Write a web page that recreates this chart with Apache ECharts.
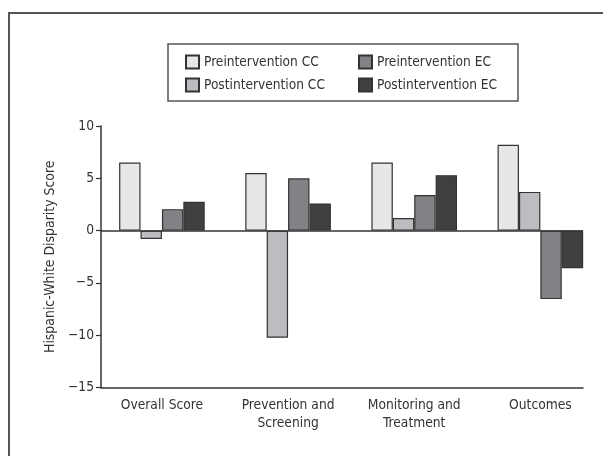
<!DOCTYPE html>
<html>
<head>
<meta charset="utf-8">
<script src="https://cdn.jsdelivr.net/npm/echarts@6/dist/echarts.min.js"></script>
<style>
html,body{margin:0;padding:0;background:#fff;}
#c{width:603px;height:456px;}
</style>
</head>
<body>
<div id="c"></div>
<script>
const categories = ['Overall Score', 'Prevention and\nScreening', 'Monitoring and\nTreatment', 'Outcomes'];
const seriesNames = ['Preintervention CC', 'Postintervention CC', 'Preintervention EC', 'Postintervention EC'];
const preCC  = [6.5, 5.5, 6.5, 8.2];
const postCC = [-0.8, -10.25, 1.2, 3.7];
const preEC  = [2.05, 5.0, 3.4, -6.55];
const postEC = [2.75, 2.6, 5.3, -3.6];

const colors = ['#e6e7e9', '#bcbdc0', '#808285', '#404041'];
const values = [preCC, postCC, preEC, postEC];
const catPos = categories.map((c, i) => i + 1);

// pick a condensed font if one is installed, else fall back and size to match text widths
const ctx = document.createElement('canvas').getContext('2d');
function w(font, txt) { ctx.font = font; return ctx.measureText(txt).width; }
const probe = 'Hispanic-White Disparity Score 0123456789';
const candidates = ['Liberation Sans Narrow', 'Arial Narrow', 'DejaVu Sans Condensed', 'Roboto Condensed', 'Noto Sans Condensed'];
let FAM = 'Liberation Sans';
for (const c of candidates) {
  if (w('100px "' + c + '", monospace', probe) !== w('100px monospace', probe) &&
      w('100px "' + c + '", serif', probe) !== w('100px serif', probe)) { FAM = c; break; }
}
const FONT = '"' + FAM + '", "Liberation Sans", Arial, sans-serif';
function fit(txt, target, maxSize) {
  const s = target / w('100px ' + FONT, txt) * 100;
  return Math.min(maxSize, Math.round(s * 10) / 10);
}
const axisSize = fit('Overall Score', 82.6, 17);
const legendSize = fit('Preintervention CC', 115, 16);
const titleSize = fit('Hispanic-White Disparity Score', 193, 17);

const chart = echarts.init(document.getElementById('c'), null, {renderer: 'canvas'});

const series = seriesNames.map((name, s) => {
  const o = {
    name: name,
    type: 'bar',
    barWidth: 21.4,
    barGap: '0%',
    data: values[s].map((v, i) => [catPos[i], v]),
    itemStyle: {color: colors[s], borderColor: '#333', borderWidth: 1.2},
    emphasis: {disabled: true},
    animation: false
  };
  if (s === 0) {
    o.markLine = {
      silent: true,
      symbol: ['none', 'none'],
      label: {show: false},
      lineStyle: {color: '#333', width: 1.5, type: 'solid'},
      data: [{yAxis: 0}],
      animation: false
    };
  }
  return o;
});

const legendCommon = {
  orient: 'vertical',
  padding: 0,
  itemWidth: 13,
  itemHeight: 13,
  itemGap: 7,
  icon: 'rect',
  selectedMode: false,
  textStyle: {fontFamily: FONT, fontSize: legendSize, color: '#333', lineHeight: 16}
};

chart.setOption({
  animation: false,
  backgroundColor: '#fff',
  grid: {left: 101, right: 20, top: 126, bottom: 68.5, containLabel: false},
  legend: [
    Object.assign({}, legendCommon, {left: 185, top: 54, data: [seriesNames[0], seriesNames[1]]}),
    Object.assign({}, legendCommon, {left: 358, top: 54, data: [seriesNames[2], seriesNames[3]]})
  ],
  xAxis: {
    type: 'value',
    min: 0.517,
    max: 4.338,
    splitLine: {show: false},
    axisLine: {onZero: false, lineStyle: {color: '#333', width: 1.5}},
    axisTick: {show: false},
    axisLabel: {
      customValues: catPos,
      formatter: v => categories[Math.round(v) - 1] || '',
      fontFamily: FONT, fontSize: axisSize, color: '#333', lineHeight: 18, margin: 9
    }
  },
  yAxis: {
    type: 'value',
    min: -15,
    max: 10,
    interval: 5,
    name: 'Hispanic-White Disparity Score',
    nameLocation: 'middle',
    nameGap: 43,
    nameTextStyle: {fontFamily: FONT, fontSize: titleSize, color: '#333'},
    splitLine: {show: false},
    axisLine: {show: true, lineStyle: {color: '#333', width: 1.5}},
    axisTick: {show: true, inside: false, length: 5, lineStyle: {color: '#333', width: 1.2}},
    axisLabel: {
      formatter: v => String(v).replace('-', '\u2212'),
      fontFamily: FONT, fontSize: axisSize, color: '#333', margin: 7
    }
  },
  graphic: [
    {type: 'rect', shape: {x: 168, y: 44, width: 350, height: 57}, style: {fill: 'none', stroke: '#555', lineWidth: 1.5}, silent: true},
    {type: 'polyline', shape: {points: [[9, 456], [9, 13], [603, 13]]}, style: {fill: 'none', stroke: '#555', lineWidth: 2}, silent: true}
  ],
  series: series
});
</script>
</body>
</html>
